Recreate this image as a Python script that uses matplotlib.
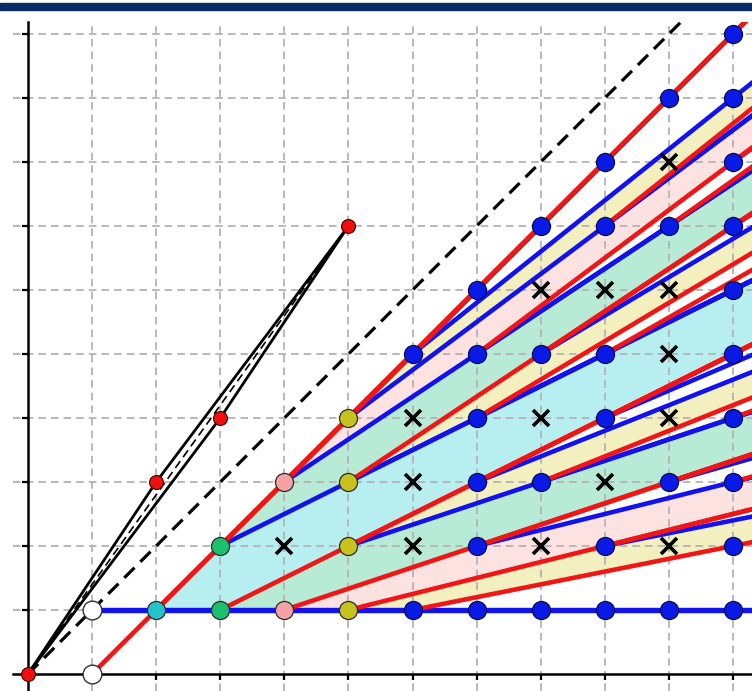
import matplotlib
matplotlib.use('Agg')
import matplotlib.pyplot as plt
from matplotlib.patches import Polygon, Rectangle

# ---------------- data ----------------
# coprime lattice points (x = denominator, y = numerator), per column
numerators = {
    2: [1], 3: [1, 2], 4: [1, 3], 5: [1, 2, 3, 4], 6: [1, 5],
    7: [1, 2, 3, 4, 5, 6], 8: [1, 3, 5, 7], 9: [1, 2, 4, 5, 7, 8],
    10: [1, 3, 7, 9], 11: [1, 2, 3, 4, 5, 6, 7, 8, 9, 10],
}
# non-coprime points marked with a cross
crosses = {4: [2], 6: [2, 3, 4], 8: [2, 4, 6], 9: [3, 6], 10: [2, 4, 5, 6, 8]}
# starting (white) points
white_x = [1, 1]
white_y = [0, 1]
# black parallelogram example
para_x = [0, 2, 5, 3]
para_y = [0, 3, 7, 4]
# deepest tree level whose rays are drawn
max_ray_depth = 5

point_colors = {2: '#22c3c9', 3: '#1dc06c', 4: '#f4a2a2', 5: '#c8c21c'}
fill_colors = {2: '#b7eef0', 3: '#b8ebd5', 4: '#fde2e2', 5: '#f3efbe'}
RED = '#f01616'
BLUE = '#1212ee'
DOT_BLUE = '#0a1ae6'

# ---------------- figure ----------------
W, H = 752, 691
fig = plt.figure(figsize=(W / 100, H / 100), dpi=100)
fig.patches.append(Rectangle((0, 1 - 9.5 / H), 1, 7 / H, transform=fig.transFigure,
                             color='#0c2a68', zorder=10))
ax = fig.add_axes([13 / W, 0, (W - 13) / W, (H - 22) / H])
sx, sy = 64.09, 64.0
ax.set_xlim(-15 / sx, (W - 28) / sx)
ax.set_ylim(-17 / sy, (674 - 22) / sy)

# axes lines through the origin
for s in ['top', 'right']:
    ax.spines[s].set_visible(False)
ax.spines['left'].set_position(('data', 0))
ax.spines['bottom'].set_position(('data', 0))
for s in ['left', 'bottom']:
    ax.spines[s].set_linewidth(1.8)
    ax.spines[s].set_zorder(1.5)
ax.set_xticks(range(1, 12))
ax.set_yticks(range(1, 11))
ax.tick_params(direction='out', length=4, width=1.6, labelbottom=False, labelleft=False)

# dashed grid
for gx in range(1, 12):
    ax.axvline(gx, color='#b3b3b3', lw=1.3, ls=(0, (4.2, 2.8)), zorder=0.6)
for gy in range(1, 11):
    ax.axhline(gy, color='#b3b3b3', lw=1.3, ls=(0, (4.2, 2.8)), zorder=0.6)


def parents(q, p):
    b = pow(p, -1, q)
    a = (p * b - 1) // q
    lower = (b, a)
    upper = (q - b, p - a)
    return upper, lower


_depth_cache = {(1, 0): 0, (1, 1): 0}


def depth(q, p):
    if (q, p) in _depth_cache:
        return _depth_cache[(q, p)]
    u, v = parents(q, p)
    d = 1 + max(depth(*u), depth(*v))
    _depth_cache[(q, p)] = d
    return d


nodes = [(q, p) for q in numerators for p in numerators[q]]

# fills (cone minus child cones) for the first levels
T = 30
for q, p in nodes:
    if q not in fill_colors:
        continue
    u, v = parents(q, p)
    A = (q, p)
    Au = (A[0] + u[0], A[1] + u[1])
    Av = (A[0] + v[0], A[1] + v[1])
    k = T / q
    poly = [A, Au, (Au[0] + k * q, Au[1] + k * p), (Av[0] + k * q, Av[1] + k * p), Av]
    ax.add_patch(Polygon(poly, closed=True, facecolor=fill_colors[q], edgecolor='none', zorder=0.3))

# rays
LW = 3.3
ax.plot([white_x[0], white_x[0] + 20], [white_y[0], white_y[0] + 20], color=RED, lw=LW,
        solid_capstyle='round', zorder=2)
ax.plot([white_x[1], white_x[1] + 20], [white_y[1], white_y[1]], color=BLUE, lw=LW + 0.6,
        solid_capstyle='round', zorder=2)
for q, p in nodes:
    if depth(q, p) > max_ray_depth:
        continue
    u, v = parents(q, p)
    ku = 20 / u[0]
    kv = 20 / v[0]
    ax.plot([q, q + ku * u[0]], [p, p + ku * u[1]], color=RED, lw=LW,
            solid_capstyle='round', zorder=2.1)
    ax.plot([q, q + kv * v[0]], [p, p + kv * v[1]], color=BLUE, lw=LW,
            solid_capstyle='round', zorder=2.0)

# diagonal y = x
ax.plot([0, 12], [0, 12], color='black', lw=2.3, ls=(0, (4.5, 2.6)), zorder=2.2)

# black parallelogram
px = para_x + [para_x[0]]
py = para_y + [para_y[0]]
ax.plot(px, py, color='black', lw=2.0, zorder=2.3, solid_joinstyle='miter')
ax.plot([para_x[0], para_x[2]], [para_y[0], para_y[2]], color='black', lw=1.2,
        ls=(0, (5, 3)), zorder=2.3)
ax.plot(para_x, para_y, 'o', ms=10, mfc='#ee1010', mec='#3a0000', mew=0.8, ls='none', zorder=4)

# crosses
cx = [q for q in crosses for p in crosses[q]]
cy = [p for q in crosses for p in crosses[q]]
ax.plot(cx, cy, 'x', ms=11, mew=2.6, color='black', ls='none', zorder=4)

# points
for q, p in nodes:
    if q in point_colors:
        ax.plot(q, p, 'o', ms=13, mfc=point_colors[q], mec='#2a2a2a', mew=0.9, zorder=5)
    else:
        ax.plot(q, p, 'o', ms=13, mfc=DOT_BLUE, mec='#0a0a50', mew=0.9, zorder=5)
ax.plot(white_x, white_y, 'o', ms=13.5, mfc='white', mec='#333333', mew=1.0, ls='none', zorder=5)

fig.savefig('out.png', dpi=100)
